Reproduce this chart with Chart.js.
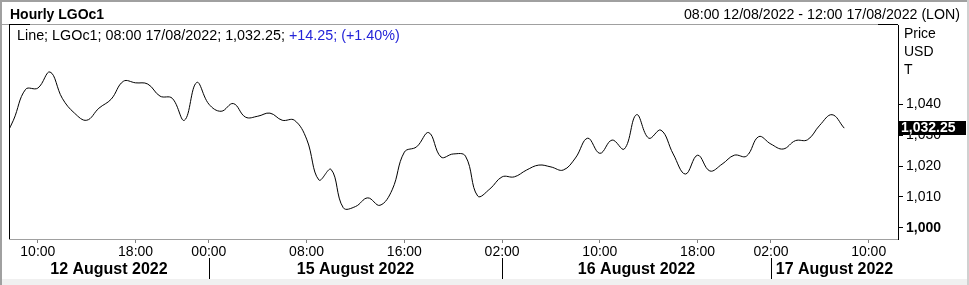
<!DOCTYPE html>
<html>
<head>
<meta charset="utf-8">
<script src="https://cdn.jsdelivr.net/npm/chart.js@4"></script>
<style>
  html, body { margin: 0; padding: 0; background: #fff; }
  #wrap { width: 969px; height: 285px; position: relative; }
</style>
</head>
<body>
<div id="wrap"><canvas id="priceChart" width="969" height="285"></canvas></div>
<script>
// trading sessions shown on the axis (hourly slots, London time)
const days = ['12 August 2022', '15 August 2022', '16 August 2022', '17 August 2022'];
const dayFirstHour = [7, 0, 2, 2];
const dayLastHour = [23, 23, 23, 12];

// hourly closes, from 07:00 12/08 to 08:00 17/08
const closes = [
  1027.0, 1034.8, 1044.8, 1045.2, 1050.4, 1041.9, 1037.1, 1034.8, 1038.7, 1041.6,
  1047.4, 1046.9, 1046.5, 1042.6, 1041.9, 1034.8, 1047.0, 1040.0, 1037.7, 1040.2,
  1035.8, 1036.1, 1037.1, 1034.8, 1034.8, 1028.7, 1015.5, 1018.9, 1006.5, 1006.9,
  1009.7, 1007.3, 1012.3, 1024.5, 1026.2, 1030.8, 1022.9, 1023.9, 1023.2, 1010.3,
  1012.6, 1016.5, 1016.5, 1018.7, 1020.3, 1019.7, 1018.7, 1022.6, 1029.0, 1024.1,
  1028.4, 1025.5, 1036.6, 1029.0, 1031.6, 1023.9, 1017.4, 1023.5, 1018.4, 1020.6,
  1023.5, 1023.2, 1029.5, 1027.1, 1025.5, 1028.2, 1028.5, 1033.2, 1036.6, 1032.25
];

const xTickSlots = [3, 11, 17, 25, 33, 41, 49, 57, 63, 71];
const yTicks = [1000, 1010, 1020, 1030, 1040];
const yUnits = ['Price', 'USD', 'T'];

// build the slot labels + first slot of each day
const slotLabels = [];
const dayStartSlot = [];
days.forEach((d, i) => {
  dayStartSlot.push(slotLabels.length);
  for (let h = dayFirstHour[i]; h <= dayLastHour[i]; h++) {
    slotLabels.push(String(h).padStart(2, '0') + ':00');
  }
});

const FONT = '"Liberation Sans", Arial, sans-serif';
const last = closes[closes.length - 1];

const decor = {
  id: 'decor',
  beforeDraw(chart) {
    const c = chart.ctx;
    c.save();
    c.fillStyle = '#fff';
    c.fillRect(0, 0, chart.width, chart.height);
    c.restore();
  },
  afterDraw(chart) {
    const c = chart.ctx;
    const a = chart.chartArea;
    const xs = chart.scales.x;
    const ys = chart.scales.y;
    c.save();

    // outer frame
    c.fillStyle = '#f0f0f0';
    c.fillRect(0, 279, chart.width, 6);
    c.fillStyle = '#a0a0a0';
    c.fillRect(0, 0, chart.width, 2);
    c.fillRect(0, 0, 2, chart.height);
    c.fillStyle = '#d0d0d0';
    c.fillRect(chart.width - 2, 0, 2, chart.height);

    // header
    c.fillStyle = '#000';
    c.font = 'bold 14px ' + FONT;
    c.textBaseline = 'alphabetic';
    c.textAlign = 'left';
    c.fillText('Hourly LGOc1', 10, 19);
    c.font = '14.2px ' + FONT;
    c.textAlign = 'right';
    c.fillText('08:00 12/08/2022 - 12:00 17/08/2022 (LON)', 960, 19);

    // plot frame
    c.strokeStyle = '#a0a0a0';
    c.lineWidth = 1;
    c.beginPath();
    c.moveTo(2, Math.round(a.top) - 0.5);
    c.lineTo(Math.round(a.right), Math.round(a.top) - 0.5);
    c.stroke();
    c.strokeStyle = '#000';
    c.beginPath();
    c.moveTo(Math.round(a.left) + 0.5, a.top);
    c.lineTo(Math.round(a.left) + 0.5, a.bottom);
    c.moveTo(Math.round(a.left), Math.round(a.top) - 0.5);
    c.lineTo(Math.round(a.left) + 21, Math.round(a.top) - 0.5);
    c.moveTo(Math.round(a.right) - 20, Math.round(a.top) - 0.5);
    c.lineTo(Math.round(a.right), Math.round(a.top) - 0.5);
    c.stroke();

    // legend line
    c.textAlign = 'left';
    c.font = '14.35px ' + FONT;
    let lx = 17;
    const black = 'Line; LGOc1; 08:00 17/08/2022; 1,032.25; ';
    c.fillStyle = '#000';
    c.fillText(black, lx, 40);
    lx += c.measureText(black).width;
    c.fillStyle = '#2424d8';
    c.fillText('+14.25; (+1.40%)', lx, 40);

    // units at the top of the price axis
    c.font = '14px ' + FONT;
    c.fillStyle = '#000';
    yUnits.forEach((u, i) => c.fillText(u, 904, 38 + i * 18));

    // last price box
    const py = Math.round(ys.getPixelForValue(last));
    c.fillStyle = '#000';
    c.fillRect(Math.round(a.right), py - 7, 68, 14);
    c.fillStyle = '#fff';
    c.font = 'bold 14px ' + FONT;
    c.textBaseline = 'middle';
    c.fillText(last.toLocaleString('en-US', {minimumFractionDigits: 2}), Math.round(a.right) + 3, py + 0.5);

    // day names and separators
    c.font = 'bold 16px ' + FONT;
    c.textBaseline = 'alphabetic';
    c.textAlign = 'center';
    c.fillStyle = '#000';
    c.strokeStyle = '#000';
    days.forEach((d, i) => {
      const x0 = i === 0 ? a.left : xs.getPixelForValue(dayStartSlot[i]);
      const x1 = i === days.length - 1 ? a.right : xs.getPixelForValue(dayStartSlot[i + 1]);
      c.fillText(d, (x0 + x1) / 2, 274);
      if (i > 0) {
        c.beginPath();
        c.moveTo(Math.round(x0) + 0.5, 258);
        c.lineTo(Math.round(x0) + 0.5, 279);
        c.stroke();
      }
    });
    c.restore();
  }
};

new Chart(document.getElementById('priceChart'), {
  type: 'line',
  data: {
    datasets: [{
      label: 'LGOc1',
      data: closes.map((v, i) => ({x: i, y: v})),
      borderColor: '#000',
      borderWidth: 1,
      pointRadius: 0,
      tension: 0.4,
      fill: false
    }]
  },
  options: {
    responsive: false,
    animation: false,
    devicePixelRatio: 1,
    layout: { padding: { left: 9, top: 25, right: 0, bottom: 0 } },
    plugins: { legend: { display: false }, tooltip: { enabled: false } },
    scales: {
      x: {
        type: 'linear',
        min: 0.64,
        max: 73.4,
        afterBuildTicks: s => { s.ticks = xTickSlots.map(v => ({value: v})); },
        afterFit: s => { s.height = 46; },
        grid: { drawOnChartArea: false, tickLength: 4, color: '#808080' },
        border: { color: '#a0a0a0' },
        ticks: {
          autoSkip: false,
          maxRotation: 0,
          padding: 1,
          color: '#000',
          font: { family: FONT, size: 14 },
          callback: v => slotLabels[v]
        }
      },
      y: {
        position: 'right',
        min: 996.4,
        max: 1065.6,
        afterBuildTicks: s => { s.ticks = yTicks.map(v => ({value: v})); },
        afterFit: s => { s.width = 71; },
        grid: { drawOnChartArea: false, tickLength: 5, color: '#000' },
        border: { color: '#000' },
        ticks: {
          padding: 3,
          color: '#000',
          font: ctx => ({ family: FONT, size: 14, weight: ctx.tick && ctx.tick.value === 1000 ? 'bold' : 'normal' }),
          callback: v => v.toLocaleString('en-US')
        }
      }
    }
  },
  plugins: [decor]
});
</script>
</body>
</html>
